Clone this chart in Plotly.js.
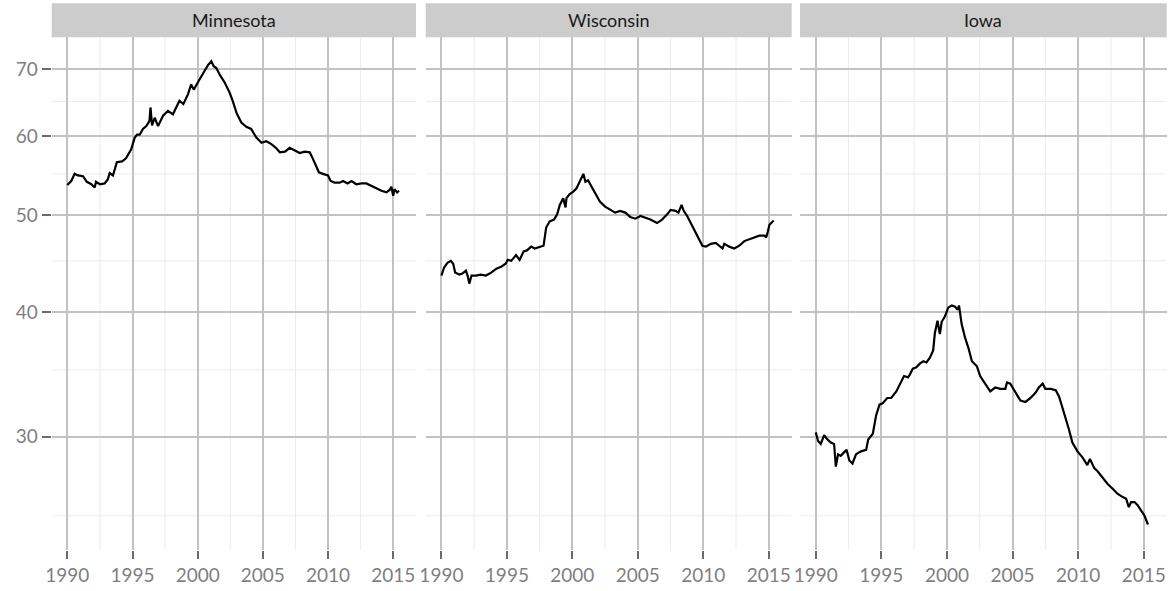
<!DOCTYPE html>
<html>
<head>
<meta charset="utf-8">
<script src="https://cdn.plot.ly/plotly-3.0.1.min.js"></script>
<style>
html,body{margin:0;padding:0;background:#fff;}
#chart{width:1172px;height:591px;}
</style>
</head>
<body>
<div id="chart"></div>
<script>
const states = ["Minnesota", "Wisconsin", "Iowa"];

const mnYears = [1990.0,1990.3,1990.56,1990.8,1991.2,1991.5,1991.84,1992.1,1992.2,1992.5,1992.86,1993.1,1993.25,1993.5,1993.8,1994.2,1994.5,1994.9,1995.17,1995.35,1995.55,1995.8,1996.06,1996.3,1996.38,1996.5,1996.7,1996.96,1997.34,1997.72,1998.1,1998.36,1998.6,1998.9,1999.26,1999.5,1999.7,2000.15,2000.46,2000.8,2001.05,2001.23,2001.43,2001.7,2002.07,2002.46,2002.7,2003.0,2003.35,2003.73,2004.1,2004.5,2004.9,2005.27,2005.65,2006.0,2006.3,2006.7,2007.06,2007.44,2007.83,2008.2,2008.6,2008.85,2009.1,2009.3,2009.6,2010.0,2010.2,2010.5,2010.9,2011.15,2011.5,2011.8,2012.17,2012.56,2012.94,2013.3,2013.7,2014.1,2014.48,2014.73,2014.86,2015.0,2015.1,2015.3,2015.45];
const mnValues = [53.6,54.1,55.0,54.8,54.7,54.0,53.7,53.3,54.0,53.7,53.8,54.3,55.1,54.8,56.5,56.6,57.0,58.2,59.8,60.2,60.2,61.0,61.4,62.1,64.1,61.5,62.6,61.4,62.9,63.6,63.1,64.1,65.1,64.6,66.1,67.6,66.8,68.4,69.5,70.7,71.3,70.5,70.2,69.1,67.9,66.3,65.0,63.2,61.9,61.3,61.0,59.8,59.1,59.3,58.9,58.4,57.8,57.9,58.4,58.0,57.7,57.9,57.8,56.9,56.0,55.2,55.0,54.8,54.1,53.9,53.9,54.1,53.8,54.1,53.7,53.8,53.8,53.5,53.2,52.9,52.7,53.0,53.4,52.3,53.1,52.7,52.9];

const wiYears = [1990.0,1990.2,1990.46,1990.72,1990.9,1991.05,1991.36,1991.6,1991.87,1992.0,1992.13,1992.3,1992.64,1993.0,1993.4,1993.8,1994.2,1994.56,1994.9,1995.07,1995.33,1995.7,1995.97,1996.28,1996.53,1996.86,1997.12,1997.5,1997.8,1998.0,1998.27,1998.6,1998.84,1999.04,1999.3,1999.48,1999.55,1999.8,2000.07,2000.32,2000.58,2000.84,2001.0,2001.2,2001.47,2001.73,2002.1,2002.5,2002.88,2003.27,2003.65,2004.04,2004.42,2004.8,2005.2,2005.57,2005.96,2006.47,2006.85,2007.24,2007.5,2007.88,2008.1,2008.34,2008.5,2008.77,2009.16,2009.54,2009.93,2010.2,2010.57,2010.95,2011.2,2011.47,2011.6,2011.98,2012.36,2012.75,2013.13,2013.5,2013.9,2014.28,2014.67,2014.8,2014.92,2015.05,2015.38];
const wiValues = [43.5,44.3,44.8,45.0,44.7,43.8,43.6,43.7,44.0,43.5,42.7,43.5,43.5,43.6,43.5,43.8,44.2,44.4,44.7,45.1,45.0,45.6,45.1,46.0,46.1,46.5,46.3,46.5,46.6,48.6,49.3,49.5,50.1,51.2,52.0,50.9,52.0,52.5,52.8,53.2,54.0,55.0,54.0,54.2,53.4,52.6,51.6,51.0,50.7,50.3,50.5,50.3,49.8,49.6,49.9,49.7,49.5,49.1,49.5,50.1,50.6,50.5,50.3,51.2,50.5,49.9,48.8,47.7,46.6,46.5,46.8,46.9,46.6,46.3,46.8,46.5,46.3,46.6,47.1,47.3,47.5,47.7,47.7,47.5,48.1,48.9,49.4];

const iaYears = [1990.0,1990.18,1990.38,1990.64,1990.9,1991.15,1991.4,1991.53,1991.7,1991.9,1992.12,1992.35,1992.56,1992.8,1993.07,1993.45,1993.84,1994.0,1994.35,1994.6,1994.86,1995.1,1995.45,1995.75,1996.14,1996.47,1996.73,1997.03,1997.16,1997.4,1997.67,1997.93,1998.2,1998.44,1998.7,1998.95,1999.08,1999.28,1999.46,1999.6,1999.85,2000.1,2000.36,2000.6,2000.82,2000.92,2001.12,2001.38,2001.64,2001.9,2002.28,2002.53,2002.8,2003.04,2003.3,2003.68,2004.07,2004.45,2004.58,2004.83,2005.22,2005.6,2005.98,2006.37,2006.75,2007.0,2007.3,2007.5,2007.9,2008.29,2008.55,2008.8,2009.05,2009.3,2009.56,2009.95,2010.33,2010.7,2010.9,2011.23,2011.48,2011.87,2012.25,2012.63,2013.0,2013.4,2013.66,2013.86,2014.04,2014.3,2014.55,2014.8,2015.06,2015.32];
const iaValues = [30.3,29.7,29.5,30.1,29.8,29.6,29.5,28.0,28.8,28.7,28.9,29.1,28.4,28.2,28.8,29.0,29.1,29.8,30.2,31.5,32.3,32.4,32.8,32.8,33.3,33.9,34.5,34.4,34.6,35.1,35.2,35.5,35.7,35.6,36.0,36.6,38.1,39.2,38.0,39.1,39.6,40.4,40.6,40.5,40.2,40.6,38.9,37.7,36.8,35.7,35.3,34.5,34.1,33.7,33.3,33.6,33.5,33.5,34.0,33.9,33.2,32.6,32.5,32.8,33.2,33.6,33.9,33.5,33.5,33.4,32.9,32.1,31.4,30.5,29.6,29.0,28.6,28.1,28.5,27.9,27.7,27.3,26.9,26.6,26.3,26.1,26.0,25.5,25.8,25.8,25.6,25.3,25.0,24.5];

const xTickVals = [1990, 1995, 2000, 2005, 2010, 2015];
const xTickText = ["1990", "1995", "2000", "2005", "2010", "2015"];
const xMinorVals = [1992.5, 1997.5, 2002.5, 2007.5, 2012.5];
const yTickVals = [30, 40, 50, 60, 70];
const yTickText = ["30", "40", "50", "60", "70"];
const yMinorVals = [25, 35, 45, 55, 65];

const seriesX = [mnYears, wiYears, iaYears];
const seriesY = [mnValues, wiValues, iaValues];

const W = 1172, H = 591;
const panelsPx = [[51.7, 416], [425.7, 791.7], [800, 1166.7]];
const plotTop = 37.3, plotBottom = 550, stripTop = 3.3;
const yDom = [(H - plotBottom) / H, (H - plotTop) / H];
const stripDom = [(H - plotTop) / H, (H - stripTop) / H];

const FONT = "Lato, 'Open Sans', sans-serif";
const majorGrid = "#c2c2c2";
const minorGrid = "#ececec";

const traces = states.map((s, i) => ({
  type: "scatter",
  mode: "lines",
  name: s,
  x: seriesX[i],
  y: seriesY[i],
  xaxis: i === 0 ? "x" : "x" + (i + 1),
  yaxis: i === 0 ? "y" : "y" + (i + 1),
  line: {color: "#000000", width: 2.2},
  showlegend: false,
  hoverinfo: "x+y"
}));

const layout = {
  width: W, height: H,
  margin: {l: 0, r: 0, t: 0, b: 0, pad: 0},
  paper_bgcolor: "#ffffff",
  plot_bgcolor: "#ffffff",
  font: {family: FONT, color: "#7f7f7f"},
  showlegend: false,
  shapes: [],
  annotations: []
};

const yRange = [Math.log10(23.1), Math.log10(75.36)];
const xRange = [1988.8, 2016.75];

states.forEach((s, i) => {
  const xs = i === 0 ? "xaxis" : "xaxis" + (i + 1);
  const ys = i === 0 ? "yaxis" : "yaxis" + (i + 1);
  const xr = i === 0 ? "x" : "x" + (i + 1);
  const yr = i === 0 ? "y" : "y" + (i + 1);
  const xd = [panelsPx[i][0] / W, panelsPx[i][1] / W];
  layout[xs] = {
    domain: xd,
    anchor: yr,
    range: xRange,
    tickmode: "array",
    tickvals: xTickVals,
    ticktext: xTickText,
    ticks: "outside",
    ticklen: 8,
    tickwidth: 2,
    tickcolor: "#6b6b6b",
    tickfont: {family: FONT, size: 19, color: "#7f7f7f"},
    showgrid: true,
    gridcolor: majorGrid,
    gridwidth: 2,
    zeroline: false,
    showline: false,
    fixedrange: true
  };
  layout[ys] = {
    domain: yDom,
    anchor: xr,
    type: "log",
    range: yRange,
    tickmode: "array",
    tickvals: yTickVals,
    ticktext: yTickText,
    ticks: i === 0 ? "outside" : "",
    ticklen: 9,
    tickwidth: 2,
    tickcolor: "#6b6b6b",
    showticklabels: i === 0,
    tickfont: {family: FONT, size: 19, color: "#7f7f7f"},
    showgrid: true,
    gridcolor: majorGrid,
    gridwidth: 2,
    zeroline: false,
    showline: false,
    fixedrange: true
  };
  xMinorVals.forEach(v => layout.shapes.push({
    type: "line", xref: xr, yref: yr + " domain",
    x0: v, x1: v, y0: 0, y1: 1,
    line: {color: minorGrid, width: 1}, layer: "below"
  }));
  yMinorVals.forEach(v => layout.shapes.push({
    type: "line", xref: xr + " domain", yref: yr,
    x0: 0, x1: 1, y0: v, y1: v,
    line: {color: minorGrid, width: 1}, layer: "below"
  }));
  layout.shapes.push({
    type: "rect", xref: "paper", yref: "paper",
    x0: xd[0], x1: xd[1], y0: stripDom[0], y1: stripDom[1],
    fillcolor: "#cccccc", line: {width: 0}, layer: "below"
  });
  layout.annotations.push({
    text: s, xref: "paper", yref: "paper",
    x: (xd[0] + xd[1]) / 2, y: (stripDom[0] + stripDom[1]) / 2,
    xanchor: "center", yanchor: "middle", showarrow: false,
    font: {family: FONT, size: 18, color: "#1a1a1a"}
  });
});

Plotly.newPlot("chart", traces, layout, {displayModeBar: false, staticPlot: true});
</script>
</body>
</html>
